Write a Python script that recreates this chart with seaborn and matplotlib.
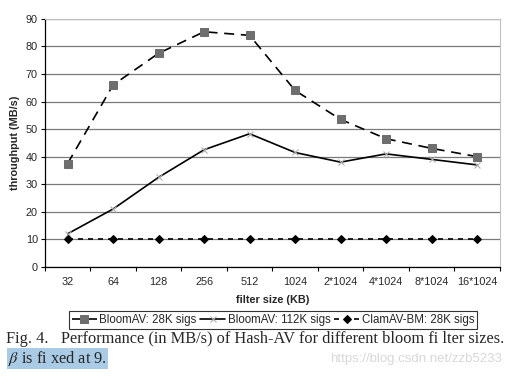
import matplotlib
matplotlib.use("Agg")
import matplotlib.pyplot as plt
import seaborn as sns
import pandas as pd
import numpy as np
from matplotlib.ticker import FixedLocator

# data
sizes = ["32", "64", "128", "256", "512", "1024", "2*1024", "4*1024", "8*1024", "16*1024"]
bloom_28k = [37.5, 66, 77.5, 85.3, 84, 64, 53.5, 46.5, 43, 40]
bloom_112k = [12, 21, 32.5, 42.5, 48.3, 41.5, 38, 41, 39, 37]
clamav_bm = [10, 10, 10, 10, 10, 10, 10, 10, 10, 10]
y_ticks = [0, 10, 20, 30, 40, 50, 60, 70, 80, 90]

sns.set_style("white")
plt.rcParams["font.family"] = ["Liberation Sans", "DejaVu Sans"]
plt.rcParams["mathtext.fontset"] = "stix"

fig = plt.figure(figsize=(5.1, 3.84), dpi=100)
ax = fig.add_axes([0.088, 0.305, 0.892, 0.646])

pos = np.arange(len(sizes))
df = pd.DataFrame({"pos": pos, "b28": bloom_28k, "b112": bloom_112k, "clam": clamav_bm})

sns.lineplot(data=df, x="pos", y="b28", ax=ax, color="black", lw=1.2,
             linestyle=(0, (6, 4)), marker="s", markersize=5.5,
             markerfacecolor="#6e6e6e", markeredgecolor="#6e6e6e",
             label="BloomAV: 28K sigs")
sns.lineplot(data=df, x="pos", y="b112", ax=ax, color="black", lw=1.2,
             marker="x", markersize=5, markeredgecolor="#b0b0b0",
             markeredgewidth=0.8, label="BloomAV: 112K sigs")
sns.lineplot(data=df, x="pos", y="clam", ax=ax, color="black", lw=1.2,
             linestyle=(0, (3, 3)), marker="D", markersize=4,
             markerfacecolor="black", markeredgecolor="black",
             label="ClamAV-BM: 28K sigs")

ax.set_xlim(-0.5, len(sizes) - 0.5)
ax.set_ylim(0, 90)
ax.set_yticks(y_ticks)
ax.set_xticks(pos)
ax.set_xticklabels(sizes)
ax.xaxis.set_minor_locator(FixedLocator(np.arange(-0.5, len(sizes), 1.0)))
ax.tick_params(axis="x", which="major", length=0, labelsize=7.8, pad=7)
ax.tick_params(axis="x", which="minor", length=3, width=0.8, color="black", direction="out", bottom=True)
ax.tick_params(axis="y", length=3, width=0.8, color="black", direction="out", labelsize=7.8, left=True, pad=2)
ax.yaxis.grid(True, color="#7a7a7a", lw=0.9)
ax.set_axisbelow(True)

for s in ["top", "right"]:
    ax.spines[s].set_color("#c0c0c0")
for s in ["left", "bottom"]:
    ax.spines[s].set_color("black")
    ax.spines[s].set_linewidth(0.9)

ax.set_xlabel("filter size (KB)", fontsize=7.8, fontweight="bold", labelpad=6)
ax.set_ylabel("throughput (MB/s)", fontsize=7.8, fontweight="bold", labelpad=4)

ax.get_legend().remove()
handles, labels = ax.get_legend_handles_labels()
leg = fig.legend(handles, labels, loc="center", bbox_to_anchor=(0.535, 0.167), ncol=3,
                 fontsize=8.3, frameon=True, fancybox=False, handlelength=2.2,
                 handletextpad=0.2, columnspacing=0.3, borderpad=0.25, borderaxespad=0)
leg.get_frame().set_edgecolor("black")
leg.get_frame().set_linewidth(0.8)

fig.text(0.012, 0.118, "Fig. 4.   Performance (in MB/s) of Hash-AV for different bloom fi lter sizes.",
         family=["Liberation Serif", "DejaVu Serif"], fontsize=11.8, va="center")
fig.text(0.016, 0.066, r"$\beta$ is fi xed at 9.", family=["Liberation Serif", "DejaVu Serif"],
         fontsize=11.8, va="center",
         bbox=dict(facecolor="#a9cbe6", edgecolor="none", pad=1.0))
fig.text(0.985, 0.066, "https://blog.csdn.net/zzb5233", fontsize=9.5, color="#d8d8d8",
         ha="right", va="center")

fig.savefig("out.png", dpi=100)
